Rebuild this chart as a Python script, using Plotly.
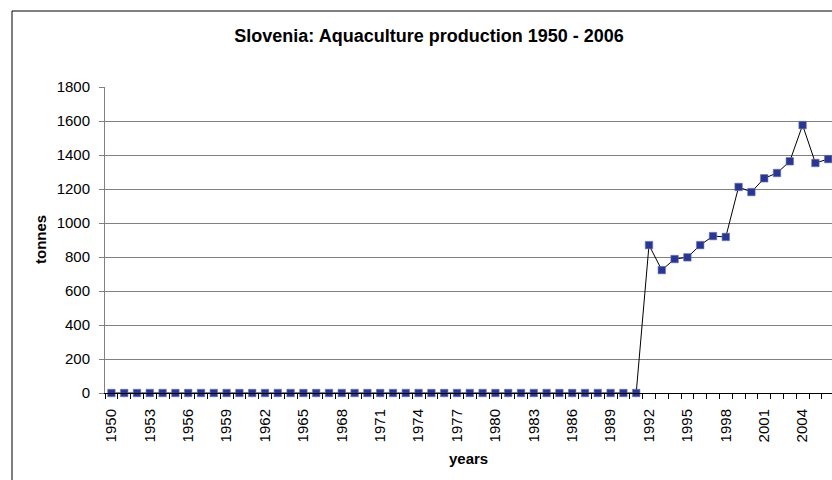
import plotly.graph_objects as go

years = list(range(1950, 2007))
tonnes = [0, 0, 0, 0, 0, 0, 0, 0, 0, 0,
          0, 0, 0, 0, 0, 0, 0, 0, 0, 0,
          0, 0, 0, 0, 0, 0, 0, 0, 0, 0,
          0, 0, 0, 0, 0, 0, 0, 0, 0, 0,
          0, 0,
          870, 723, 788, 798, 870, 923, 918, 1212, 1182, 1263,
          1294, 1363, 1576, 1353, 1376]
label_years = [str(y) for y in range(1950, 2007, 3)]

W, H = 832, 480
L, R, T, B = 105, 0, 87, 87
pw = W - L - R
ph = H - T - B

def px_x(p):
    return (p - L) / pw

def px_y(p):
    return (H - B - p) / ph

FONT = "Liberation Sans, Arial, sans-serif"

fig = go.Figure()
fig.add_trace(go.Scatter(
    x=years, y=tonnes, mode="lines+markers",
    line=dict(color="black", width=1),
    marker=dict(symbol="square", size=7.5, color="#2B3592",
                line=dict(color="#6A78B8", width=0.6)),
    cliponaxis=False, showlegend=False,
))

fig.update_layout(
    width=W, height=H,
    margin=dict(l=L, r=R, t=T, b=B),
    paper_bgcolor="white", plot_bgcolor="white",
    font=dict(family=FONT, size=15, color="black"),
    title=dict(text="<b>Slovenia: Aquaculture production 1950 - 2006</b>",
               x=429 / W, xref="container", xanchor="center",
               y=1 - 36 / H, yref="container", yanchor="middle",
               font=dict(family=FONT, size=18, color="black")),
    xaxis=dict(
        range=[1949.5, 1949.5 + pw / 12.8],
        tickmode="array", tickvals=[int(y) for y in label_years], ticktext=label_years,
        tickangle=-90, ticks="", showgrid=False, zeroline=False,
        showline=True, linecolor="black", linewidth=1,
        ticklabelstandoff=9,
        minor=dict(tickmode="array", tickvals=[y - 0.5 for y in years] + [years[-1] + 0.5],
                   ticks="outside", ticklen=5, tickcolor="black", tickwidth=1, showgrid=False),
        tickfont=dict(family=FONT, size=15, color="black"),
    ),
    yaxis=dict(
        range=[0, 1800], tickmode="linear", tick0=0, dtick=200,
        showgrid=True, gridcolor="#808080", gridwidth=1, zeroline=False,
        showline=True, linecolor="#808080", linewidth=1,
        ticks="outside", ticklen=5, tickcolor="#808080",
        ticklabelstandoff=6,
        tickfont=dict(family=FONT, size=15, color="black"),
    ),
    shapes=[dict(type="rect", xref="paper", yref="paper",
                 x0=px_x(12), x1=px_x(900), y0=px_y(500), y1=px_y(11),
                 line=dict(color="black", width=1), fillcolor="rgba(0,0,0,0)",
                 layer="below")],
    annotations=[
        dict(text="<b>years</b>", xref="paper", yref="paper", x=0.5, y=px_y(458),
             xanchor="center", yanchor="middle", showarrow=False,
             font=dict(family=FONT, size=15, color="black")),
        dict(text="<b>tonnes</b>", xref="paper", yref="paper", x=px_x(40), y=0.5,
             xanchor="center", yanchor="middle", showarrow=False, textangle=-90,
             font=dict(family=FONT, size=15, color="black")),
    ],
)

fig.write_html("out.html")
